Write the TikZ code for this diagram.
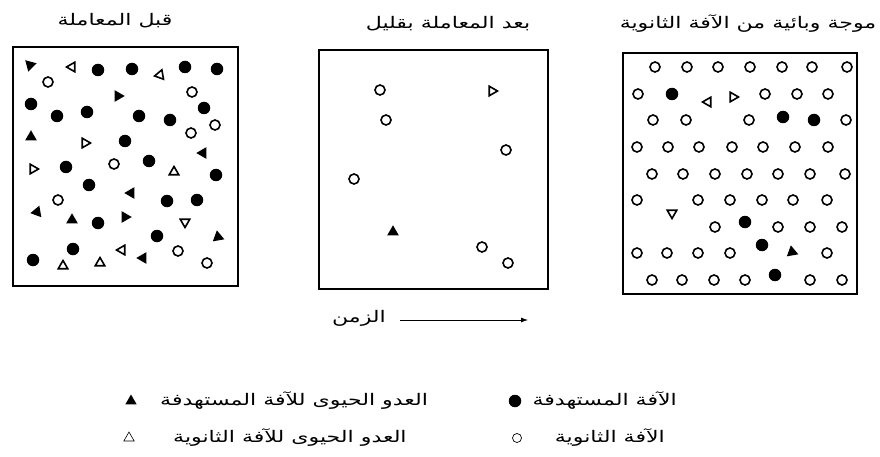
\documentclass[tikz,border=0pt]{standalone}
\usepackage{fontspec}
\newfontfamily\arabicfont[Script=Arabic,FakeStretch=1.38]{DejaVu Sans}
\TeXXeTstate=1
\usetikzlibrary{shapes.geometric,arrows.meta,positioning}
\tikzset{
  fc/.style={circle,fill=black,inner sep=0pt,minimum size=12.5pt},
  oc/.style={circle,draw=black,line width=1.6pt,inner sep=0pt,minimum size=10pt},
  ft/.style={regular polygon,regular polygon sides=3,fill=black,inner sep=0pt,minimum size=13.5pt},
  ot/.style={regular polygon,regular polygon sides=3,draw=black,line width=1.6pt,inner sep=0pt,minimum size=11pt},
  panel/.style={draw=black,line width=1.6pt},
  artxt/.style={font=\arabicfont\fontsize{16}{18}\selectfont,inner sep=0pt},
}
\begin{document}
\begin{tikzpicture}[x=1pt,y=-1pt]
\useasboundingbox (0,0) rectangle (880,457);
\fill[white] (0,0) rectangle (880,457);
% panels
\draw[panel] (13,47) rectangle (238,286);
\draw[panel] (319,50) rectangle (548,289);
\draw[panel] (623,53) rectangle (857,294);
% titles
\node[artxt] (t1) at (115,21) {\beginR قبل المعاملة\endR};
\node[artxt] (t2) at (448,24) {\beginR بعد المعاملة بقليل\endR};
\node[artxt] (t3) at (748,24) {\beginR موجة وبائية من الآفة الثانوية\endR};
% left panel
\foreach \x/\y [count=\i] in {98/70,132/69,185/67,217/69,31/104,57/116,87/112,139/116,170/120,204/108,125/141,66/167,149/161,216/175,89/185,167/201,197/200,98/223,157/236,73/249,33/260}
  \node[fc] (La\i) at (\x,\y) {};
\foreach \x/\y [count=\i] in {48/82,192/92,215/125,191/133,114/164,58/200,178/251,207/263}
  \node[oc] (Lb\i) at (\x,\y) {};
\foreach \x/\y/\r [count=\i] in {30/65/165,118/96/-90,31/137/0,203/153/90,131/193/90,37/212/100,72/220/0,125/217/-90,218/237/10,143/258/90}
  \node[ft,rotate=\r] (Lc\i) at (\x,\y) {};
\foreach \x/\y/\r [count=\i] in {72/67/90,160/75/100,85/143/-90,33/169/-90,174/172/0,185/222/180,122/250/90,63/266/0,100/263/0}
  \node[ot,rotate=\r] (Ld\i) at (\x,\y) {};
% middle panel
\foreach \x/\y [count=\i] in {380/90,386/120,506/150,354/179,482/247,508/263}
  \node[oc] (Mb\i) at (\x,\y) {};
\node[ot,rotate=-90] (Md1) at (492,91) {};
\node[ft] (Mc1) at (393,232) {};
% right panel
\foreach \x/\y [count=\i] in {
  655/67,687/67,718/67,750/67,782/67,812/67,847/67,
  638/94,765/94,797/94,828/94,
  653/120,686/120,749/120,846/120,
  637/147,668/147,699/147,732/147,763/147,795/147,828/147,
  652/174,683/174,715/174,747/174,778/174,810/174,845/174,
  637/200,698/200,730/200,762/200,793/200,827/200,
  715/227,778/227,810/227,842/227,
  637/253,667/253,698/253,730/253,827/253,
  652/280,682/280,714/280,745/280,810/280,842/280}
  \node[oc] (Rb\i) at (\x,\y) {};
\foreach \x/\y [count=\i] in {672/94,783/117,814/120,745/222,762/245,775/275}
  \node[fc] (Ra\i) at (\x,\y) {};
\node[ot,rotate=90] (Rd1) at (708,102) {};
\node[ot,rotate=-90] (Rd2) at (733,97) {};
\node[ot,rotate=180] (Rd3) at (672,213) {};
\node[ft,rotate=10] (Rc1) at (792,252) {};
% time arrow
\node[artxt] (time) at (359,318) {\beginR الزمن\endR};
\coordinate (ta) at (400,320);
\coordinate (tb) at (528,320);
\draw[line width=0.8pt,-{Latex[length=7pt,width=5pt]}] (ta) -- (tb);
% legend
\node[ft,minimum size=13pt] (g1) at (131,401) {};
\node[artxt,anchor=west] (g1t) at (160,401) {\beginR العدو الحيوى للآفة المستهدفة\endR};
\node[regular polygon,regular polygon sides=3,draw=black,line width=0.6pt,inner sep=0pt,minimum size=12pt] (g2) at (129,438) {};
\node[artxt,anchor=west] (g2t) at (173,438) {\beginR العدو الحيوى للآفة الثانوية\endR};
\node[artxt,anchor=east] (g3t) at (677,401) {\beginR الآفة المستهدفة\endR};
\node[fc,minimum size=12.5pt] (g3) at (515,401) {};
\node[artxt,anchor=east] (g4t) at (665,438) {\beginR الآفة الثانوية\endR};
\node[circle,draw=black,line width=0.7pt,inner sep=0pt,minimum size=9pt] (g4) at (517,438) {};
\end{tikzpicture}
\end{document}
